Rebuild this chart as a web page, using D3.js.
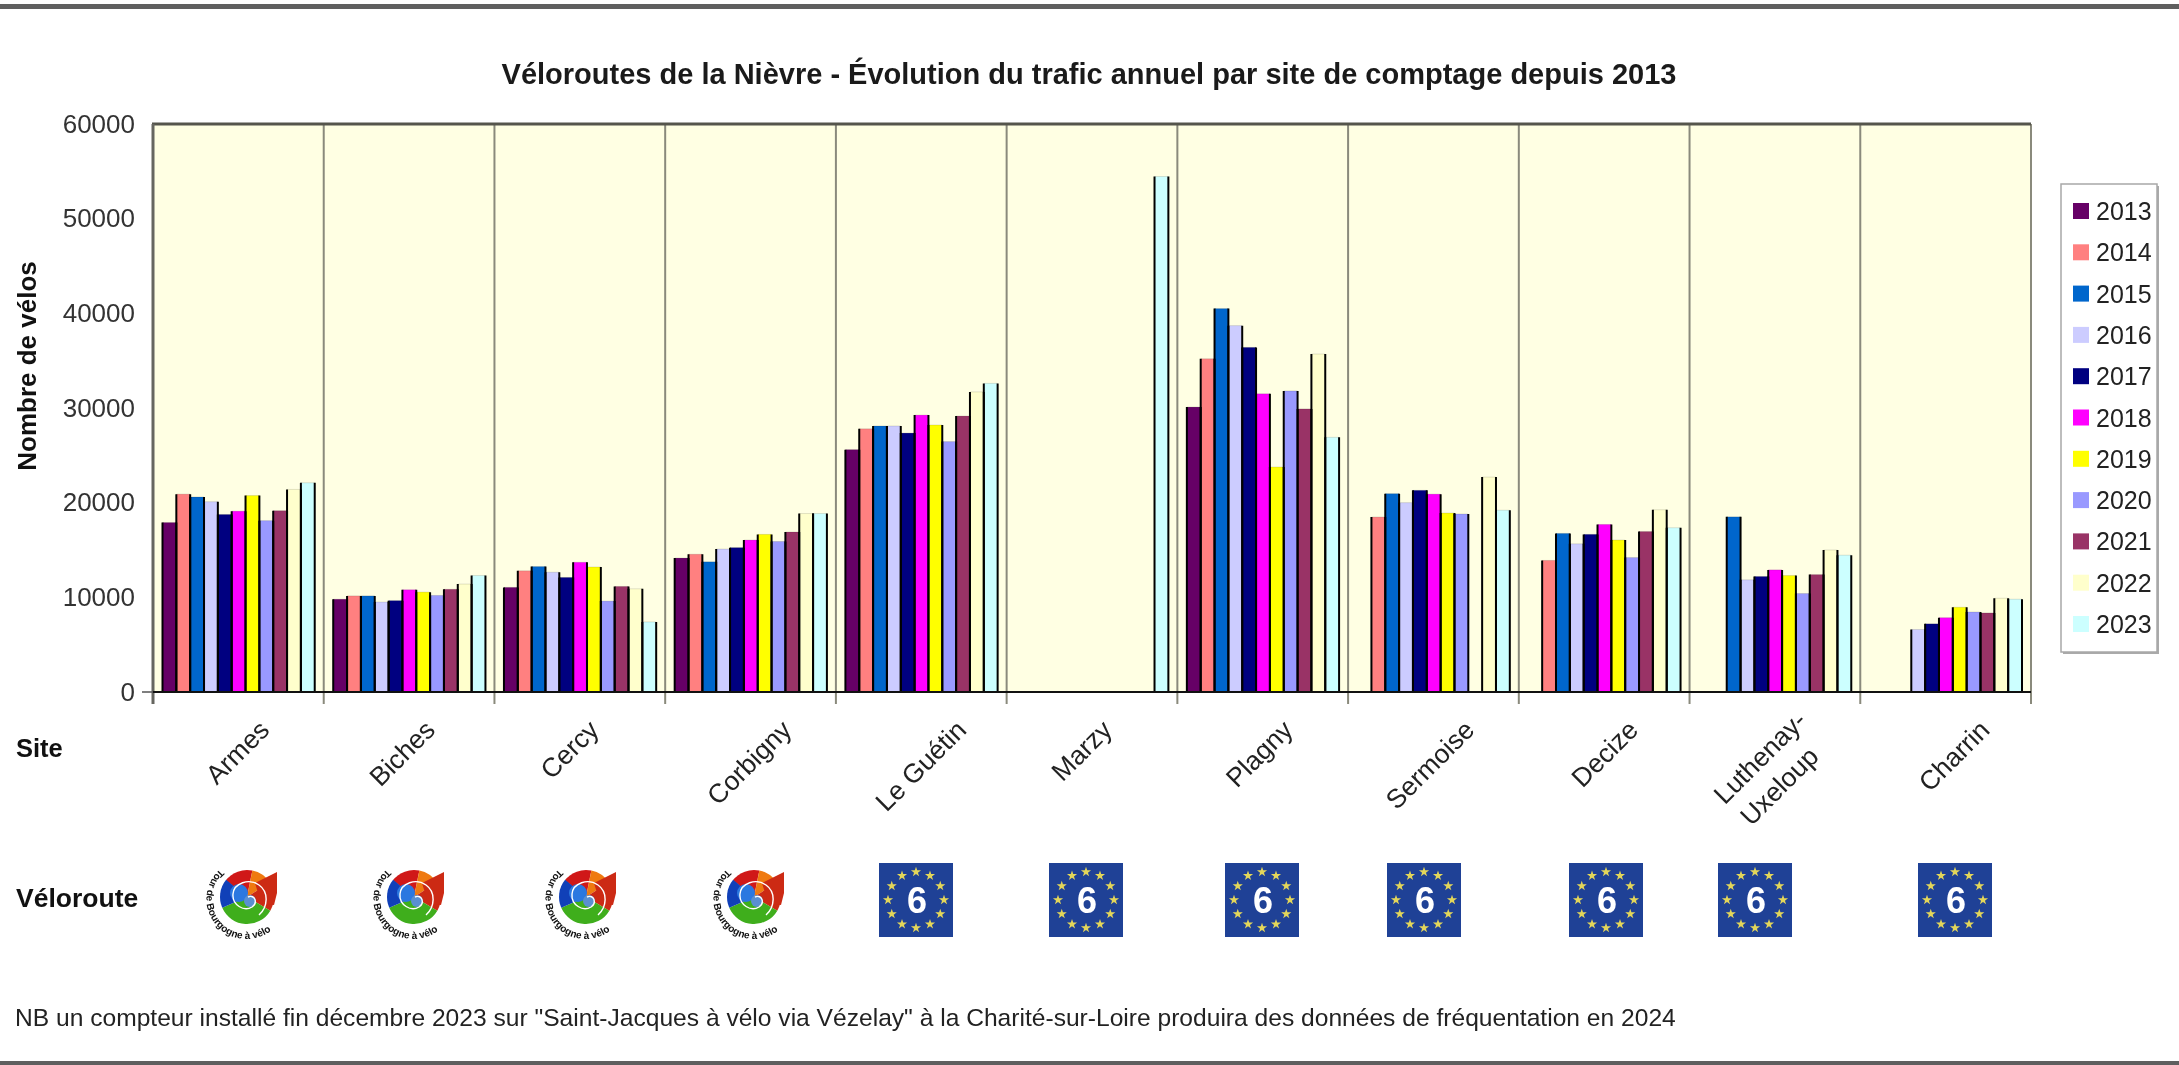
<!DOCTYPE html>
<html>
<head>
<meta charset="utf-8">
<script src="https://cdn.jsdelivr.net/npm/d3@7"></script>
<style>
  html, body { margin: 0; background: #fff; }
  svg { display: block; font-family: "Liberation Sans", Arial, sans-serif; filter: blur(0.7px); }
</style>
</head>
<body>
<div id="chart"></div>
<script>
// data, one array per year, same order as sites
const sites = ['Armes', 'Biches', 'Cercy', 'Corbigny', 'Le Guétin', 'Marzy', 'Plagny', 'Sermoise', 'Decize', 'Luthenay-|Uxeloup', 'Charrin'];
const years = ['2013', '2014', '2015', '2016', '2017', '2018', '2019', '2020', '2021', '2022', '2023'];
const colors = ['#660066', '#ff8080', '#0066cc', '#ccccff', '#000080', '#ff00ff', '#ffff00', '#9999ff', '#993366', '#ffffcc', '#ccffff'];
const v2013 = [17900, 9800, 11050, 14150, 25600, null, 30100, null, null, null, null];
const v2014 = [20900, 10150, 12800, 14550, 27800, null, 35200, 18480, 13900, null, null];
const v2015 = [20600, 10150, 13250, 13750, 28100, null, 40500, 20950, 16750, 18500, null];
const v2016 = [20100, 9500, 12650, 15100, 28100, null, 38700, 20000, 15650, 11850, 6600];
const v2017 = [18750, 9650, 12100, 15250, 27350, null, 36400, 21300, 16650, 12200, 7200];
const v2018 = [19100, 10800, 13700, 16050, 29250, null, 31500, 20900, 17700, 12900, 7850];
const v2019 = [20750, 10550, 13200, 16650, 28200, null, 23760, 18900, 16050, 12300, 8950];
const v2020 = [18100, 10200, 9600, 15900, 26450, null, 31800, 18800, 14200, 10400, 8450];
const v2021 = [19150, 10850, 11150, 16900, 29150, null, 29900, null, 16950, 12400, 8350];
const v2022 = [21400, 11400, 10900, 18850, 31700, null, 35700, 22700, 19250, 15000, 9900];
const v2023 = [22100, 12300, 7400, 18850, 32600, 54450, 26900, 19200, 17350, 14450, 9800];
const series = [v2013, v2014, v2015, v2016, v2017, v2018, v2019, v2020, v2021, v2022, v2023];
const yTicks = [0, 10000, 20000, 30000, 40000, 50000, 60000];
// which logo sits under which site, with its centre (page x)
const logos = ['bourgogne', 'bourgogne', 'bourgogne', 'bourgogne', 'euro', 'euro', 'euro', 'euro', 'euro', 'euro', 'euro'];
const logoX = [247, 414, 586, 754, 916, 1086, 1262, 1424, 1606, 1755, 1955];
// the pasted site labels are not quite regular, nudge each one
const labelDx = [4, -1, -8, 14, 18, -7, 3, 14, 7, 14, 17];

const width = 2179, height = 1065;
const margin = { top: 124, right: 148, bottom: 373, left: 153 };
const graphWidth = width - margin.left - margin.right;
const graphHeight = height - margin.top - margin.bottom;

const svg = d3.select('#chart').append('svg')
  .attr('width', width)
  .attr('height', height);

// top and bottom bands of the page
svg.append('rect').attr('x', 0).attr('y', 4).attr('width', width).attr('height', 5).attr('fill', '#5f5f5f');
svg.append('rect').attr('x', 0).attr('y', 1061).attr('width', width).attr('height', 4).attr('fill', '#5f5f5f');

svg.append('text')
  .attr('x', 1089).attr('y', 84)
  .attr('text-anchor', 'middle')
  .attr('font-size', 29).attr('font-weight', 'bold').attr('fill', '#1a1a1a')
  .text('Véloroutes de la Nièvre - Évolution du trafic annuel par site de comptage depuis 2013');

const graph = svg.append('g')
  .attr('transform', `translate(${margin.left}, ${margin.top})`);

// scales
const x = d3.scaleBand().domain(d3.range(sites.length)).range([0, graphWidth]).paddingInner(0).paddingOuter(0);
const xBar = d3.scaleBand().domain(d3.range(years.length)).range([9.5, x.bandwidth() - 9]);
const y = d3.scaleLinear().domain([0, 60000]).range([graphHeight, 0]);

graph.append('rect')
  .attr('width', graphWidth).attr('height', graphHeight)
  .attr('fill', '#ffffe3');

// bars: fill first, then dark side edges and a faint top edge
const barData = [];
series.forEach((values, s) => values.forEach((value, i) => {
  if (value !== null) barData.push({ s, i, value });
}));

const bars = graph.append('g').attr('class', 'bars');
bars.selectAll('rect').data(barData).enter().append('rect')
  .attr('x', d => x(d.i) + xBar(d.s))
  .attr('y', d => y(d.value))
  .attr('width', xBar.bandwidth())
  .attr('height', d => graphHeight - y(d.value))
  .attr('fill', d => colors[d.s]);
bars.selectAll('path').data(barData).enter().append('path')
  .attr('fill', 'none')
  .attr('stroke', '#000')
  .attr('stroke-width', 2)
  .attr('d', d => {
    const x0 = x(d.i) + xBar(d.s), x1 = x0 + xBar.bandwidth();
    return `M${x0},${graphHeight}V${y(d.value)}M${x1},${y(d.value)}V${graphHeight}`;
  });
bars.selectAll('line').data(barData).enter().append('line')
  .attr('x1', d => x(d.i) + xBar(d.s))
  .attr('x2', d => x(d.i) + xBar(d.s) + xBar.bandwidth())
  .attr('y1', d => y(d.value))
  .attr('y2', d => y(d.value))
  .attr('stroke', '#000').attr('stroke-opacity', 0.12);

// separators between sites, they run down to the x ticks
graph.append('g').selectAll('line')
  .data(d3.range(1, sites.length + 1))
  .enter().append('line')
  .attr('x1', d => d * x.bandwidth()).attr('x2', d => d * x.bandwidth())
  .attr('y1', 0).attr('y2', graphHeight + 12)
  .attr('stroke', '#8a8a7c').attr('stroke-width', 2);

// frame
graph.append('line').attr('x1', -1).attr('x2', graphWidth).attr('y1', 0).attr('y2', 0)
  .attr('stroke', '#55554c').attr('stroke-width', 3);
graph.append('line').attr('x1', 0).attr('x2', 0).attr('y1', 0).attr('y2', graphHeight + 12)
  .attr('stroke', '#666660').attr('stroke-width', 3);
graph.append('line').attr('x1', 0).attr('x2', graphWidth).attr('y1', graphHeight).attr('y2', graphHeight)
  .attr('stroke', '#111').attr('stroke-width', 2);

// y axis, labels only apart from the tick at zero
const yAxisGroup = graph.append('g').attr('class', 'y-axis')
  .call(d3.axisLeft(y).tickValues(yTicks).tickSize(0).tickPadding(18).tickFormat(d3.format('d')));
yAxisGroup.select('.domain').remove();
yAxisGroup.selectAll('text').attr('font-size', 26).attr('fill', '#333').style('font-family', 'inherit');
graph.append('line').attr('x1', -11).attr('x2', 0).attr('y1', y(0)).attr('y2', y(0))
  .attr('stroke', '#555').attr('stroke-width', 1.5);

svg.append('text')
  .attr('transform', 'translate(36, 366) rotate(-90)')
  .attr('text-anchor', 'middle')
  .attr('font-size', 26).attr('font-weight', 'bold').attr('fill', '#111')
  .text('Nombre de vélos');

// site names, rotated, ends pointing at the band centre
const siteLabels = graph.append('g').selectAll('text')
  .data(sites)
  .enter().append('text')
  .attr('transform', (d, i) => `translate(${x(i) + x.bandwidth() / 2 + 22 + labelDx[i]}, ${graphHeight + 33}) rotate(-45)`)
  .attr('text-anchor', 'end')
  .attr('font-size', 26.5).attr('fill', '#222');
siteLabels.each(function (d) {
  const parts = d.split('|');
  parts.forEach((part, k) => {
    d3.select(this).append('tspan')
      .attr('x', k === 0 ? 0 : -17)
      .attr('dy', k === 0 ? (parts.length > 1 ? '-0.15em' : '0.35em') : '1.28em')
      .text(part);
  });
});

svg.append('text').attr('x', 16).attr('y', 757)
  .attr('font-size', 25.5).attr('font-weight', 'bold').attr('fill', '#111').text('Site');
svg.append('text').attr('x', 16).attr('y', 907)
  .attr('font-size', 26.5).attr('font-weight', 'bold').attr('fill', '#111').text('Véloroute');

// small drawn logos in place of the pasted images
const arcGen = d3.arc();
const bourgogneParts = [
  ['#d01818', -0.9, 0.2], ['#ef7a10', 0.2, 1.0], ['#cc2a14', 1.0, 2.1],
  ['#3fae1c', 2.1, 4.3], ['#1040b8', 4.3, 5.4]
];
function drawBourgogne(g, i) {
  bourgogneParts.forEach(p => {
    g.append('path').attr('fill', p[0])
      .attr('d', arcGen({ innerRadius: 0, outerRadius: 27, startAngle: p[1], endAngle: p[2] }));
  });
  // the jagged corner, upper right
  g.append('path').attr('fill', '#cc2a14').attr('d', 'M8,-14L18,-19L30,-25L30,-4L27,8L14,6Z');
  g.append('circle').attr('r', 9).attr('cx', -8).attr('cy', -4).attr('fill', '#2b78e0');
  g.append('circle').attr('r', 6).attr('cx', 3).attr('cy', 4).attr('fill', '#5a8fd0');
  g.append('path').attr('fill', 'none').attr('stroke', '#fff').attr('stroke-width', 1.4)
    .attr('d', 'M1,0C8,-3 11,6 5,10C-3,15 -15,8 -14,-3C-13,-14 2,-19 12,-12C22,-5 21,10 12,18');
  g.append('path').attr('id', `arc${i}`).attr('fill', 'none')
    .attr('d', 'M-27,-28A39,39 0 0 0 26,32');
  g.append('text').attr('font-size', 10).attr('font-weight', 'bold').attr('fill', '#111')
    .append('textPath').attr('href', `#arc${i}`).attr('startOffset', '0%')
    .text('Tour de Bourgogne à vélo');
}
function drawEuro(g) {
  g.append('rect').attr('x', -37).attr('y', -37).attr('width', 74).attr('height', 74).attr('fill', '#1f4196');
  d3.range(12).forEach(k => {
    const a = k * Math.PI / 6;
    g.append('path').attr('fill', '#e3d65a')
      .attr('transform', `translate(${28 * Math.sin(a)}, ${-28 * Math.cos(a)})`)
      .attr('d', d3.symbol(d3.symbolStar, 32)());
  });
  g.append('text').attr('text-anchor', 'middle').attr('x', 1).attr('y', 13)
    .attr('font-size', 36).attr('font-weight', 'bold').attr('fill', '#fff').text('6');
}
logos.forEach((kind, i) => {
  const g = svg.append('g').attr('transform', `translate(${logoX[i]}, ${kind === 'euro' ? 900 : 897})`);
  if (kind === 'euro') drawEuro(g); else drawBourgogne(g, i);
});

svg.append('text').attr('x', 15).attr('y', 1026)
  .attr('font-size', 24.6).attr('fill', '#222')
  .text('NB un compteur installé fin décembre 2023 sur "Saint-Jacques à vélo via Vézelay" à la Charité-sur-Loire produira des données de fréquentation en 2024');

// legend
const legend = svg.append('g').attr('transform', 'translate(2061, 184)');
legend.append('rect').attr('x', 2).attr('y', 2).attr('width', 96).attr('height', 468).attr('fill', '#aaa');
legend.append('rect').attr('width', 96).attr('height', 468).attr('fill', '#fff').attr('stroke', '#a8a8a8').attr('stroke-width', 1.5);
const legendY = d3.scalePoint().domain(years).range([27, 440]);
const legendItems = legend.selectAll('g').data(years).enter().append('g')
  .attr('transform', d => `translate(0, ${legendY(d)})`);
legendItems.append('rect')
  .attr('x', 12).attr('y', -8).attr('width', 16).attr('height', 16)
  .attr('fill', (d, i) => colors[i]);
legendItems.append('text')
  .attr('x', 35).attr('y', 9)
  .attr('font-size', 25).attr('fill', '#222')
  .text(d => d);
</script>
</body>
</html>
